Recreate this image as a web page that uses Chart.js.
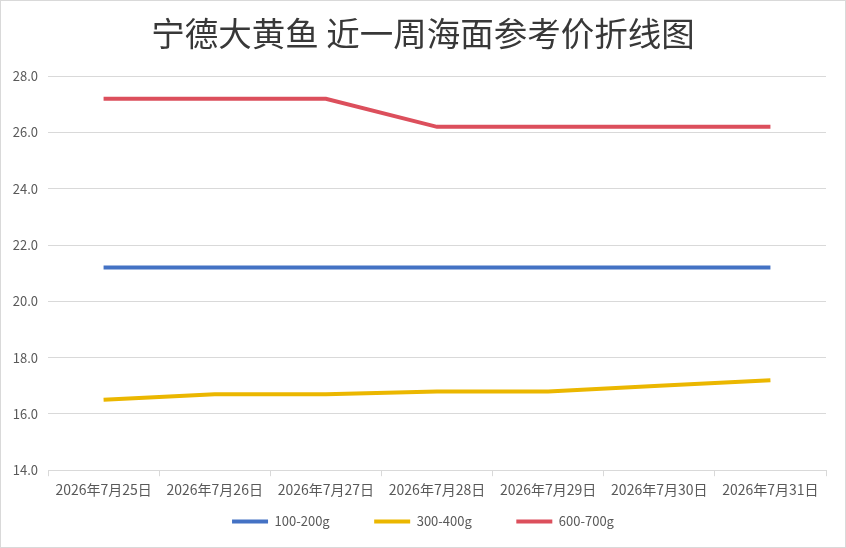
<!DOCTYPE html>
<html>
<head>
<meta charset="utf-8">
<script src="https://cdn.jsdelivr.net/npm/chart.js@4/dist/chart.umd.min.js"></script>
<style>
  html, body { margin: 0; padding: 0; background: #fff; }
  #wrap { width: 846px; height: 548px; box-sizing: border-box; border: 1px solid #d9d9d9; }
  #chart { display: block; }
</style>
</head>
<body>
<div id="wrap"><canvas id="chart" width="844" height="546"></canvas></div>
<script>
const titleText = "宁德大黄鱼 近一周海面参考价折线图";
const dates = ["2026年7月25日", "2026年7月26日", "2026年7月27日", "2026年7月28日", "2026年7月29日", "2026年7月30日", "2026年7月31日"];
const small = [21.2, 21.2, 21.2, 21.2, 21.2, 21.2, 21.2];
const medium = [16.5, 16.7, 16.7, 16.8, 16.8, 17.0, 17.2];
const large = [27.2, 27.2, 27.2, 26.2, 26.2, 26.2, 26.2];
const seriesNames = ["100-200g", "300-400g", "600-700g"];
const seriesColors = ["#4472C4", "#EBB700", "#DC4F5C"];

const cjk = "'Noto Sans CJK SC', 'Noto Sans', sans-serif";

function line(i, values) {
  return {
    label: seriesNames[i],
    data: values,
    borderColor: seriesColors[i],
    backgroundColor: seriesColors[i],
    borderWidth: 4,
    pointRadius: 0,
    tension: 0,
  };
}

new Chart(document.getElementById("chart"), {
  type: "line",
  data: {
    labels: dates,
    datasets: [line(0, small), line(1, medium), line(2, large)],
  },
  options: {
    responsive: false,
    animation: false,
    layout: { padding: { left: 10, right: 10, top: 0, bottom: 9 } },
    plugins: {
      title: {
        display: true,
        text: titleText,
        color: "#383838",
        font: { family: cjk, size: 33.5, weight: "normal" },
        padding: { top: 12, bottom: 23 },
      },
      legend: {
        position: "bottom",
        labels: {
          boxWidth: 36,
          boxHeight: 4,
          padding: 12,
          color: "#595959",
          font: { family: cjk, size: 13 },
          // widen the gap between items without growing the legend height
          generateLabels: (chart) => {
            const items = Chart.defaults.plugins.legend.labels.generateLabels(chart);
            items.forEach((it, i) => {
              it.lineWidth = 0;
              if (i < items.length - 1) it.text += "\u2003\u2003\u2002";
            });
            return items;
          },
        },
      },
      tooltip: { enabled: false },
    },
    scales: {
      x: {
        offset: true,
        grid: { offset: true, drawOnChartArea: false, drawTicks: true, tickLength: 6, color: "#d9d9d9" },
        border: { color: "#d9d9d9" },
        ticks: { color: "#595959", font: { family: cjk, size: 14 }, padding: 5, maxRotation: 0 },
      },
      y: {
        min: 14,
        max: 28,
        grid: { color: "#d9d9d9", drawTicks: false },
        border: { display: false },
        ticks: {
          stepSize: 2,
          padding: 10,
          color: "#595959",
          font: { family: cjk, size: 13 },
          callback: (v) => v.toFixed(1),
        },
        afterFit: (s) => { s.width = 37; },
      },
      // empty right-hand gutter so the plot ends where the original does
      gutter: {
        type: "linear",
        position: "right",
        grid: { display: false },
        border: { display: false },
        ticks: { display: false },
        afterFit: (s) => { s.width = 9; },
      },
    },
  },
});
</script>
</body>
</html>
